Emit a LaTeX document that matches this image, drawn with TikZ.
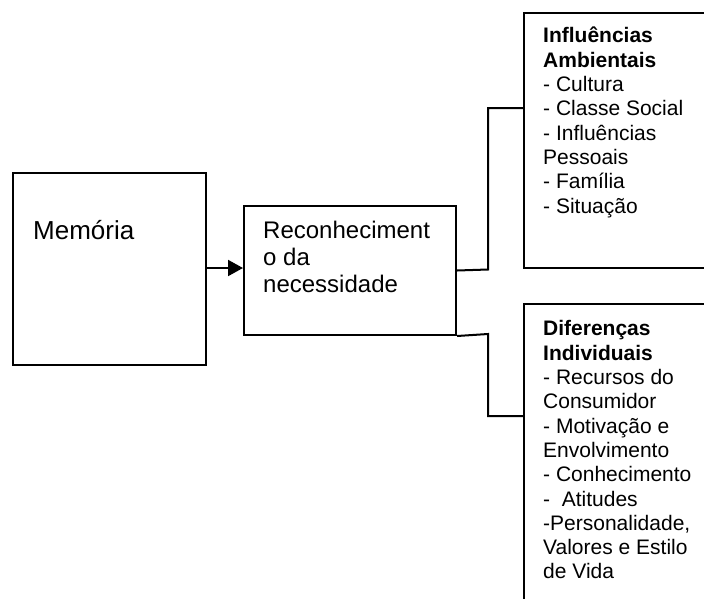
\documentclass[tikz,border=0pt]{standalone}
\usepackage{fontspec}
\setmainfont{Liberation Sans}
\usetikzlibrary{arrows.meta}
\begin{document}
\begin{tikzpicture}[x=1pt,y=-1pt,
  box/.style={draw=black,line width=2pt,rectangle,inner sep=0pt,anchor=north west},
  link/.style={draw=black,line width=2pt},
  bigtext/.style={anchor=north west,inner sep=0pt,align=left,font=\fontsize{24}{26.7}\selectfont},
  listtext/.style={anchor=north west,inner sep=0pt,align=left,font=\fontsize{21}{24.3}\selectfont}]
\clip (0,0) rectangle (704,598);
\fill[white] (0,0) rectangle (704,598);

% boxes
\node[box,minimum width=193pt,minimum height=192pt] (mem) at (12,172) {};
\node[box,minimum width=212pt,minimum height=129pt] (reco) at (243,205) {};
\node[box,minimum width=200pt,minimum height=255pt] (amb) at (523,12) {};
\node[box,minimum width=200pt,minimum height=320pt] (dif) at (523,303) {};

% texts
\node[bigtext,font=\fontsize{26}{26.7}\selectfont] (memtxt) at (33,{239-0.7*26.7}) {\strut Memória};
\node[bigtext] (recotxt) at (263,{238.5-0.7*26.7}) {\strut Reconheciment\\o da\\necessidade};
\node[listtext] (ambtxt) at (543,{42.7-0.7*24.3}) {\strut\textbf{Influências}\\\textbf{Ambientais}\\- Cultura\\- Classe Social\\- Influências\\Pessoais\\- Família\\- Situação};
\node[listtext] (diftxt) at (543,{335.7-0.7*24.3}) {\strut\textbf{Diferenças}\\\textbf{Individuais}\\- Recursos do\\Consumidor\\- Motivação e\\Envolvimento\\- Conhecimento\\-\ \ Atitudes\\-Personalidade,\\Valores e Estilo\\de Vida};

% connectors
\draw[link,-{Triangle[length=15pt,width=16pt]}] (mem.east |- 0,268) -- (reco.west |- 0,268);
\coordinate (upin) at (amb.north west |- 0,108);
\coordinate (lowin) at (dif.north west |- 0,416);
\draw[link] (reco.east) -- (488,269.5) |- (upin);
\draw[link] (reco.south east) -- (488,334) |- (lowin);
\end{tikzpicture}
\end{document}
